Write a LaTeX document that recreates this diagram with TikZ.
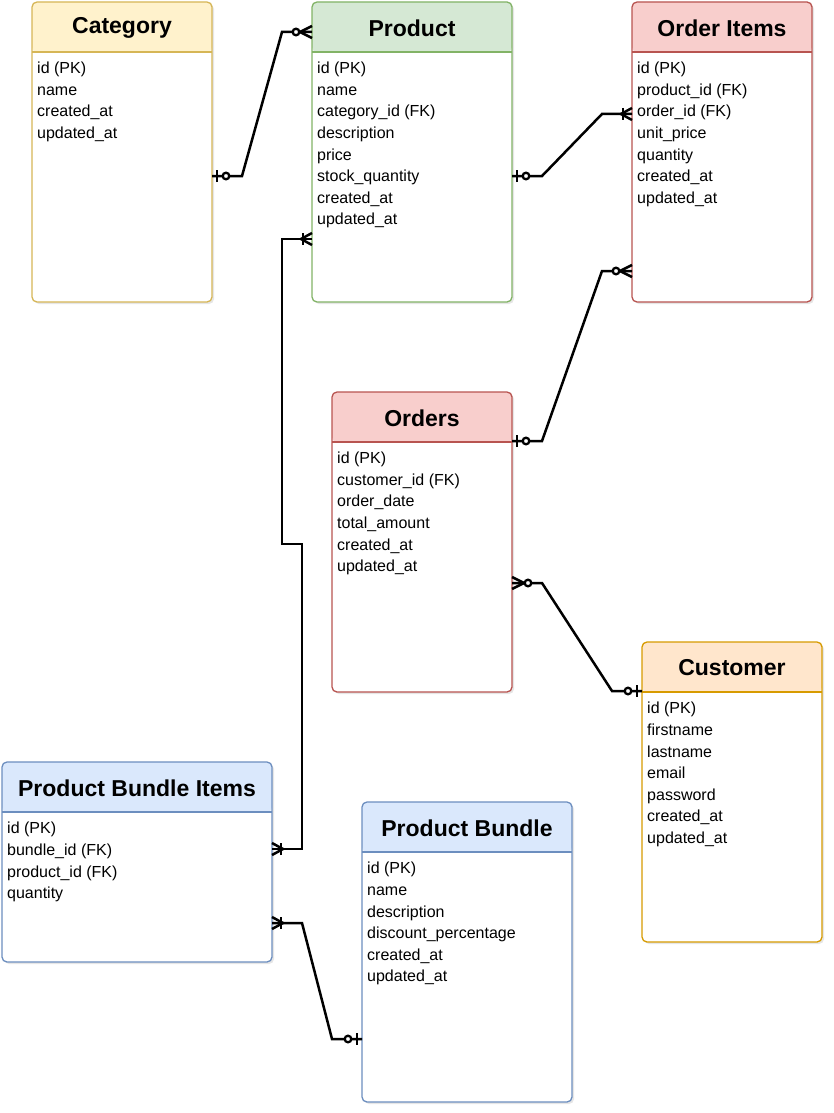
\documentclass[tikz,border=0pt]{standalone}
\usepackage{fontspec}
\setmainfont{Liberation Sans}
\usetikzlibrary{positioning,calc,shadows}
\definecolor{catfill}{HTML}{FFF2CC}
\definecolor{catline}{HTML}{D6B656}
\definecolor{prodfill}{HTML}{D5E8D4}
\definecolor{prodline}{HTML}{82B366}
\definecolor{ordfill}{HTML}{F8CECC}
\definecolor{ordline}{HTML}{B85450}
\definecolor{custfill}{HTML}{FFE6CC}
\definecolor{custline}{HTML}{D79B00}
\definecolor{bndlfill}{HTML}{DAE8FC}
\definecolor{bndlline}{HTML}{6C8EBF}

\begin{document}
\begin{tikzpicture}[x=1pt, y=1pt,
    entity/.style={rectangle, draw=#1line, fill=white, line width=1.3pt, rounded corners=5pt,
        inner sep=0pt, outer sep=0pt,
        drop shadow={shadow xshift=2pt, shadow yshift=-2pt, opacity=0.2},
        path picture={
            \fill[#1fill] (path picture bounding box.north west) rectangle ([yshift=-50pt]path picture bounding box.north east);
            \draw[#1line, line width=1.3pt] ([yshift=-50pt]path picture bounding box.north west) -- ([yshift=-50pt]path picture bounding box.north east);
        }},
    title/.style={font=\fontsize{23}{27}\selectfont\bfseries, inner sep=0pt},
    fields/.style={anchor=north west, align=left, inner sep=0pt, font=\fontsize{16}{21.6}\selectfont},
    rel/.style={line width=2.5pt, line join=miter},
    zeroone/.pic={
        \draw[line width=2.5pt] (5,-6) -- (5,6);
        \draw[line width=2.3pt, fill=white] (14,0) circle (3.3);
    },
    zeromany/.pic={
        \draw[line width=2.5pt] (0,-6) -- (12,0) -- (0,6);
        \draw[line width=2.3pt, fill=white] (16,0) circle (3.3);
    },
    onemany/.pic={
        \draw[line width=2.5pt] (0,-6) -- (11,0) -- (0,6);
        \draw[line width=2.5pt] (9,-6) -- (9,6);
    }
]
\useasboundingbox (0,0) rectangle (833,-1113);

% Category
\node[entity=cat, minimum width=180pt, minimum height=300pt] (cat) at (122,-152) {};
\node[title] (cattitle) at ([yshift=-26pt]cat.north) {Category};
\node[fields] (catfields) at ([xshift=5pt,yshift=-60pt]cat.north west) {
    id (PK)\\name\\created\_at\\updated\_at};

% Product
\node[entity=prod, minimum width=200pt, minimum height=300pt] (prod) at (412,-152) {};
\node[title] (prodtitle) at ([yshift=-26pt]prod.north) {Product};
\node[fields] (prodfields) at ([xshift=5pt,yshift=-60pt]prod.north west) {
    id (PK)\\name\\category\_id (FK)\\description\\price\\stock\_quantity\\created\_at\\updated\_at};

% Order Items
\node[entity=ord, minimum width=180pt, minimum height=300pt] (items) at (722,-152) {};
\node[title] (itemstitle) at ([yshift=-26pt]items.north) {Order Items};
\node[fields] (itemsfields) at ([xshift=5pt,yshift=-60pt]items.north west) {
    id (PK)\\product\_id (FK)\\order\_id (FK)\\unit\_price\\quantity\\created\_at\\updated\_at};

% Orders
\node[entity=ord, minimum width=180pt, minimum height=300pt] (orders) at (422,-542) {};
\node[title] (orderstitle) at ([yshift=-26pt]orders.north) {Orders};
\node[fields] (ordersfields) at ([xshift=5pt,yshift=-60pt]orders.north west) {
    id (PK)\\customer\_id (FK)\\order\_date\\total\_amount\\created\_at\\updated\_at};

% Customer
\node[entity=cust, minimum width=180pt, minimum height=300pt] (cust) at (732,-792) {};
\node[title] (custtitle) at ([yshift=-26pt]cust.north) {Customer};
\node[fields] (custfields) at ([xshift=5pt,yshift=-60pt]cust.north west) {
    id (PK)\\firstname\\lastname\\email\\password\\created\_at\\updated\_at};

% Product Bundle Items
\node[entity=bndl, minimum width=270pt, minimum height=200pt] (bitems) at (137,-862) {};
\node[title] (bitemstitle) at ([yshift=-26pt]bitems.north) {Product Bundle Items};
\node[fields] (bitemsfields) at ([xshift=5pt,yshift=-60pt]bitems.north west) {
    id (PK)\\bundle\_id (FK)\\product\_id (FK)\\quantity};

% Product Bundle
\node[entity=bndl, minimum width=210pt, minimum height=300pt] (bundle) at (467,-952) {};
\node[title] (bundletitle) at ([yshift=-26pt]bundle.north) {Product Bundle};
\node[fields] (bundlefields) at ([xshift=5pt,yshift=-60pt]bundle.north west) {
    id (PK)\\name\\description\\discount\_percentage\\created\_at\\updated\_at};

% Relations
\draw[rel] (cat.east |- 0,-176) -- ++(30,0) -- ($(prod.west |- 0,-32)+(-30,0)$) -- (prod.west |- 0,-32);
\pic at (cat.east |- 0,-176) {zeroone};
\pic[rotate=180] at (prod.west |- 0,-32) {zeromany};

\draw[rel] (prod.east |- 0,-176) -- ++(30,0) -- ($(items.west |- 0,-114)+(-30,0)$) -- (items.west |- 0,-114);
\pic at (prod.east |- 0,-176) {zeroone};
\pic[rotate=180] at (items.west |- 0,-114) {onemany};

\draw[rel] (orders.east |- 0,-441) -- ++(30,0) -- ($(items.west |- 0,-271)+(-30,0)$) -- (items.west |- 0,-271);
\pic at (orders.east |- 0,-441) {zeroone};
\pic[rotate=180] at (items.west |- 0,-271) {zeromany};

\draw[rel] (orders.east |- 0,-583) -- ++(30,0) -- ($(cust.west |- 0,-691)+(-30,0)$) -- (cust.west |- 0,-691);
\pic at (orders.east |- 0,-583) {zeromany};
\pic[rotate=180] at (cust.west |- 0,-691) {zeroone};

\draw[rel] (prod.west |- 0,-239) -- ++(-30,0) -- ++(0,-305) -- ++(20,0) |- (bitems.east |- 0,-849);
\pic[rotate=180] at (prod.west |- 0,-239) {onemany};
\pic at (bitems.east |- 0,-849) {onemany};

\draw[rel] (bitems.east |- 0,-923) -- ++(30,0) -- ($(bundle.west |- 0,-1039)+(-30,0)$) -- (bundle.west |- 0,-1039);
\pic at (bitems.east |- 0,-923) {onemany};
\pic[rotate=180] at (bundle.west |- 0,-1039) {zeroone};

\end{tikzpicture}
\end{document}
